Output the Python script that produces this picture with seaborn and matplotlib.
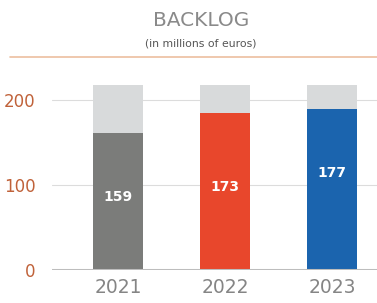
import matplotlib
matplotlib.use("Agg")
import matplotlib.pyplot as plt
import seaborn as sns
import pandas as pd

years = ["2021", "2022", "2023"]
bar_heights = [161, 185, 190]
value_labels = ["159", "173", "177"]
backdrop = [218, 218, 218]
bar_colors = ["#7b7c7a", "#e8472c", "#1b64ae"]
yticks = [0, 100, 200]
label_y = [86, 98, 114]

sns.set_theme(style="white")
plt.rcParams['font.family'] = ['DejaVu Sans']

fig = plt.figure(figsize=(3.77, 3.03), dpi=100)
ax = fig.add_axes([52/377, 33/303, 1 - 52/377, (270-83)/303])

df = pd.DataFrame({"year": years, "value": bar_heights, "back": backdrop})

sns.barplot(data=df, x="year", y="back", color="#d8dadb", width=0.467,
            ax=ax, zorder=2, saturation=1, linewidth=0)
sns.barplot(data=df, x="year", y="value", hue="year", palette=bar_colors,
            width=0.467, ax=ax, zorder=3, legend=False, saturation=1,
            linewidth=0)

for i, (ly, lab) in enumerate(zip(label_y, value_labels)):
    ax.text(i, ly, lab, ha="center", va="center", color="white",
            fontsize=10, fontweight="bold", zorder=4)

ax.set_xlim(-0.617, 2.42)
ax.set_ylim(0, 220)
ax.set_yticks(yticks)
ax.set_yticklabels([str(t) for t in yticks], color="#c0623a", fontsize=12)
ax.tick_params(axis="y", length=0, pad=12)
ax.tick_params(axis="x", length=0, pad=6, labelsize=13.5, labelcolor="#858585")
ax.set_xlabel("")
ax.set_ylabel("")
for t in [100, 200]:
    ax.axhline(t, color="#dcdcdc", lw=0.8, zorder=1)
ax.axhline(0, color="#bdbdbd", lw=2.2, zorder=5)
for s in ax.spines.values():
    s.set_visible(False)

fig.text(201/377, 1 - 20/303, "BACKLOG", ha="center", va="center",
         fontsize=14.5, color="#8a8a8a")
fig.text(201/377, 1 - 43/303, "(in millions of euros)", ha="center",
         va="center", fontsize=7.8, color="#555555")
fig.add_artist(plt.Line2D([10/377, 1.0], [1 - 57/303, 1 - 57/303],
                          color="#ecbf9f", lw=1.2, transform=fig.transFigure))

fig.savefig("out.png", dpi=100)
